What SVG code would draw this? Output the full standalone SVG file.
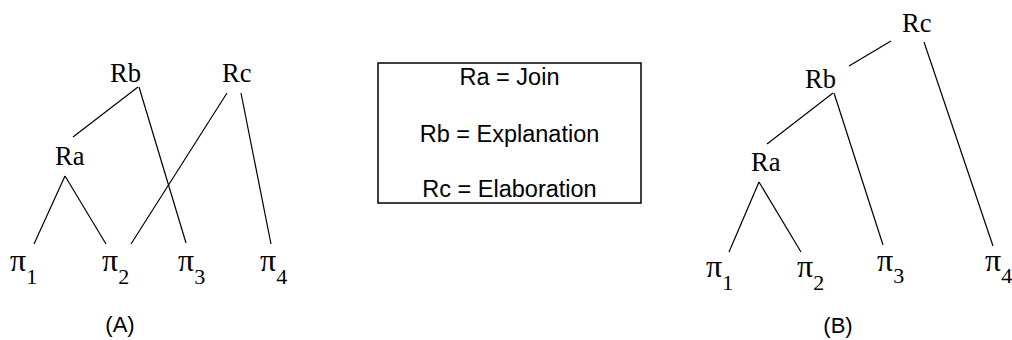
<svg xmlns="http://www.w3.org/2000/svg" width="1012" height="340" viewBox="0 0 1012 340">
<style>
.lbl{font-family:"Liberation Serif","Times New Roman",serif;font-size:26.5px;fill:#000}
.pi{font-family:"Liberation Serif","Times New Roman",serif;font-size:32px;fill:#000}
.sub{font-size:22px}
.sans{font-family:"Liberation Sans",Arial,sans-serif;fill:#000}
.key{font-size:23.5px;text-anchor:middle}
.cap{font-size:22px;text-anchor:middle}
.edge{stroke:#000;stroke-width:1.2;fill:none}
</style>
<rect width="1012" height="340" fill="#fff"/>
<g id="connectors">
<line class="edge" x1="138" y1="87" x2="73" y2="137"/>
<line class="edge" x1="139" y1="87" x2="186" y2="243"/>
<line class="edge" x1="227" y1="93" x2="131" y2="244"/>
<line class="edge" x1="241" y1="93" x2="271" y2="244"/>
<line class="edge" x1="65" y1="176" x2="34" y2="244"/>
<line class="edge" x1="65" y1="176" x2="106" y2="244"/>
<line class="edge" x1="891" y1="41" x2="849" y2="66"/>
<line class="edge" x1="924" y1="42" x2="993" y2="246"/>
<line class="edge" x1="833" y1="93" x2="767" y2="144"/>
<line class="edge" x1="834" y1="93" x2="883" y2="245"/>
<line class="edge" x1="759" y1="182" x2="729" y2="252"/>
<line class="edge" x1="759" y1="182" x2="801" y2="252"/>
</g>
<g id="A-Rb"><text class="lbl" x="110" y="82">Rb</text></g>
<g id="A-Rc"><text class="lbl" x="222" y="82">Rc</text></g>
<g id="A-Ra"><text class="lbl" x="55" y="165">Ra</text></g>
<g id="A-pi1"><text class="pi" x="10" y="271">π<tspan class="sub" dy="13">1</tspan></text></g>
<g id="A-pi2"><text class="pi" x="102" y="271">π<tspan class="sub" dy="13">2</tspan></text></g>
<g id="A-pi3"><text class="pi" x="178" y="271">π<tspan class="sub" dy="13">3</tspan></text></g>
<g id="A-pi4"><text class="pi" x="260" y="271">π<tspan class="sub" dy="13">4</tspan></text></g>
<g id="A-caption"><text class="sans cap" x="120" y="332">(A)</text></g>
<g id="legend">
<rect x="378" y="63" width="263" height="140" fill="none" stroke="#000" stroke-width="1.5"/>
<text class="sans key" x="509.5" y="85">Ra = Join</text>
<text class="sans key" x="509.5" y="142">Rb = Explanation</text>
<text class="sans key" x="509.5" y="197">Rc = Elaboration</text>
</g>
<g id="B-Rc"><text class="lbl" x="902" y="32">Rc</text></g>
<g id="B-Rb"><text class="lbl" x="805" y="88">Rb</text></g>
<g id="B-Ra"><text class="lbl" x="751" y="171">Ra</text></g>
<g id="B-pi1"><text class="pi" x="706" y="277">π<tspan class="sub" dy="13">1</tspan></text></g>
<g id="B-pi2"><text class="pi" x="797" y="277">π<tspan class="sub" dy="13">2</tspan></text></g>
<g id="B-pi3"><text class="pi" x="877" y="271">π<tspan class="sub" dy="12">3</tspan></text></g>
<g id="B-pi4"><text class="pi" x="985" y="271">π<tspan class="sub" dy="12">4</tspan></text></g>
<g id="B-caption"><text class="sans cap" x="838" y="333">(B)</text></g>
</svg>
